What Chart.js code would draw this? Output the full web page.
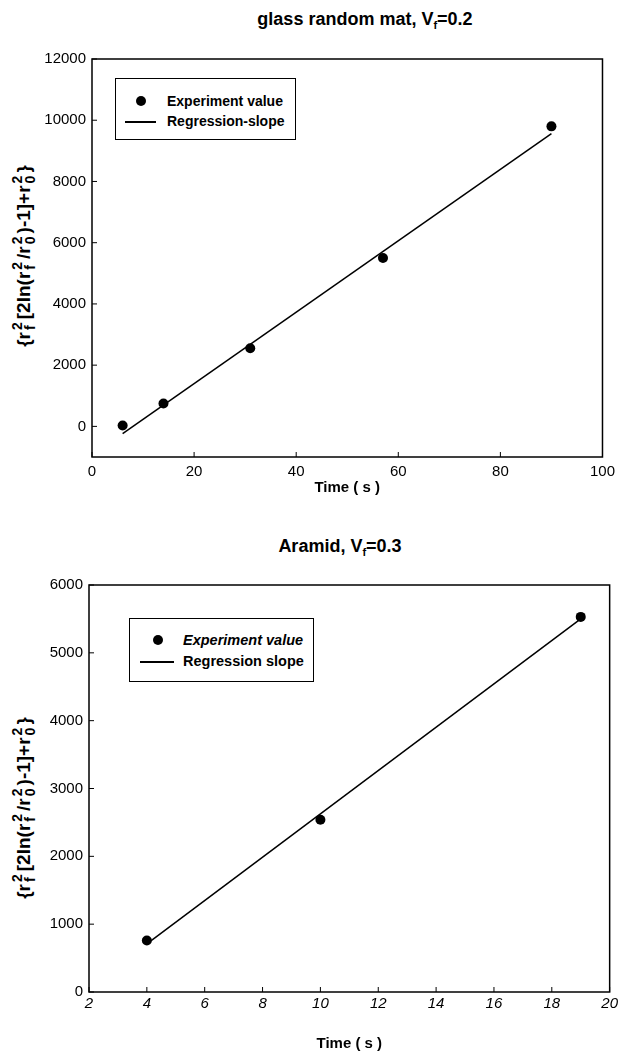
<!DOCTYPE html>
<html lang="en">
<head>
<meta charset="UTF-8">
<title>Regression slope: glass random mat and aramid</title>
<script src="https://cdn.jsdelivr.net/npm/chart.js"></script>
<style>
    body { margin: 0; background: #fff; color: #000; font-family: "Liberation Sans", Arial, sans-serif; }
    .page { position: relative; width: 621px; height: 1056px; overflow: hidden; }
    canvas { position: absolute; left: 0; }
    .title { position: absolute; font-weight: bold; font-size: 18px; white-space: nowrap; transform: translate(-50%, -50%); }
    .title sub { font-size: 11px; vertical-align: -4px; line-height: 0; }
    .ylabel { position: absolute; font-weight: bold; font-size: 19px; white-space: nowrap;
              transform: translate(-50%, -50%) rotate(-90deg); }
    .ss { display: inline-block; vertical-align: -5px; font-size: 14px; line-height: 13px; margin: 0 3px 0 2px; }
    .ss span { display: block; }
    .legend { position: absolute; border: 1px solid #000; background: #fff; font-weight: bold; box-sizing: border-box; }
    .legend .row { position: absolute; left: 0; height: 20px; line-height: 20px; white-space: nowrap; }
    .legend .dot { position: absolute; width: 10px; height: 10px; border-radius: 50%; background: #000; top: 5px; }
    .legend .ln { position: absolute; height: 1.5px; background: #000; top: 10px; }
</style>
</head>
<body>
<div class="page">
    <!-- top chart -->
    <div class="title" style="left:365px; top:19px;">glass random mat, V<sub>f</sub>=0.2</div>
    <div class="ylabel" style="left:24px; top:256px;">{r<span class="ss"><span>2</span><span>f</span></span>[2ln(r<span class="ss"><span>2</span><span>f</span></span>/r<span class="ss"><span>2</span><span>0</span></span>)-1]+r<span class="ss"><span>2</span><span>0</span></span>}</div>
    <canvas id="glassChart" width="621" height="510" style="top:0; width:621px; height:510px;"></canvas>
    <div class="legend" style="left:115px; top:78px; width:181px; height:62px; font-size:14px;">
        <div class="row" style="top:12px;"><span class="dot" style="left:20px;"></span><span style="margin-left:51px;">Experiment value</span></div>
        <div class="row" style="top:32px;"><span class="ln" style="left:9px; width:31px;"></span><span style="margin-left:51px;">Regression-slope</span></div>
    </div>

    <!-- bottom chart -->
    <div class="title" style="left:340px; top:546px;">Aramid, V<sub>f</sub>=0.3</div>
    <div class="ylabel" style="left:24px; top:808px;">{r<span class="ss"><span>2</span><span>f</span></span>[2ln(r<span class="ss"><span>2</span><span>f</span></span>/r<span class="ss"><span>2</span><span>0</span></span>)-1]+r<span class="ss"><span>2</span><span>0</span></span>}</div>
    <canvas id="aramidChart" width="621" height="546" style="top:510px; width:621px; height:546px;"></canvas>
    <div class="legend" style="left:129px; top:618px; width:185px; height:64px; font-size:14.5px;">
        <div class="row" style="top:11px;"><span class="dot" style="left:23px;"></span><span style="margin-left:53px; font-style:italic;">Experiment value</span></div>
        <div class="row" style="top:32px;"><span class="ln" style="left:10px; width:34px;"></span><span style="margin-left:53px;">Regression slope</span></div>
    </div>
</div>

<script>
    // glass random mat, Vf=0.2
    const glassTime = [6, 14, 31, 57, 90];
    const glassValue = [30, 750, 2550, 5500, 9800];
    const glassFitTime = [6, 90];
    const glassFitValue = [-240, 9560];
    const glassXTicks = [0, 20, 40, 60, 80, 100];
    const glassYTicks = [0, 2000, 4000, 6000, 8000, 10000, 12000];

    // Aramid, Vf=0.3
    const aramidTime = [4, 10, 19];
    const aramidValue = [760, 2540, 5530];
    const aramidFitTime = [4, 19];
    const aramidFitValue = [710, 5500];
    const aramidXTicks = [2, 4, 6, 8, 10, 12, 14, 16, 18, 20];
    const aramidYTicks = [0, 1000, 2000, 3000, 4000, 5000, 6000];

    const tickFont = { family: '"Liberation Sans", Arial, sans-serif', size: 15 };
    const titleFont = { family: '"Liberation Sans", Arial, sans-serif', size: 15, weight: 'bold' };

    function toPoints(xs, ys) {
        return xs.map((x, i) => ({ x: x, y: ys[i] }));
    }

    // frame around the plot and short inward tick marks
    const frameTicks = {
        id: 'frameTicks',
        beforeDatasetsDraw(chart) {
            const { ctx, chartArea: a, scales } = chart;
            ctx.save();
            ctx.strokeStyle = '#000';
            ctx.lineWidth = 1.5;
            ctx.strokeRect(a.left, a.top, a.right - a.left, a.bottom - a.top);
            ctx.lineWidth = 1;
            ctx.beginPath();
            scales.x.ticks.forEach(t => {
                const px = scales.x.getPixelForValue(t.value);
                ctx.moveTo(px, a.bottom);
                ctx.lineTo(px, a.bottom - 5);
            });
            scales.y.ticks.forEach(t => {
                const py = scales.y.getPixelForValue(t.value);
                ctx.moveTo(a.left, py);
                ctx.lineTo(a.left + 5, py);
            });
            ctx.stroke();
            ctx.restore();
        }
    };

    function makeChart(id, pts, fit, o) {
        return new Chart(document.getElementById(id), {
            type: 'scatter',
            data: {
                datasets: [
                    {
                        label: 'Experiment value',
                        data: pts,
                        pointRadius: 5,
                        pointBackgroundColor: '#000',
                        pointBorderColor: '#000',
                        pointBorderWidth: 0,
                        showLine: false
                    },
                    {
                        label: 'Regression slope',
                        data: fit,
                        showLine: true,
                        pointRadius: 0,
                        borderColor: '#000',
                        borderWidth: 1.5
                    }
                ]
            },
            options: {
                responsive: false,
                animation: false,
                layout: { padding: o.padding },
                plugins: { legend: { display: false }, tooltip: { enabled: false } },
                scales: {
                    x: {
                        type: 'linear',
                        min: o.xMin, max: o.xMax,
                        ticks: {
                            padding: o.xPad, color: '#000',
                            font: Object.assign({}, tickFont, { style: o.xItalic ? 'italic' : 'normal' }),
                            callback: v => String(v)
                        },
                        grid: { display: false, drawTicks: false },
                        border: { display: false },
                        title: { display: true, text: 'Time ( s )', color: '#000', font: titleFont, padding: 0 },
                        afterBuildTicks: s => { s.ticks = o.xTicks.map(v => ({ value: v })); },
                        afterFit: s => { s.height = o.xHeight; }
                    },
                    y: {
                        type: 'linear',
                        min: o.yMin, max: o.yMax,
                        ticks: { padding: 6, color: '#000', font: tickFont, callback: v => String(v) },
                        grid: { display: false, drawTicks: false },
                        border: { display: false },
                        afterBuildTicks: s => { s.ticks = o.yTicks.map(v => ({ value: v })); },
                        afterFit: s => { s.width = o.yWidth; }
                    }
                }
            },
            plugins: [frameTicks]
        });
    }

    makeChart('glassChart', toPoints(glassTime, glassValue), toPoints(glassFitTime, glassFitValue), {
        padding: { top: 59, right: 16, bottom: 13, left: 0 },
        xMin: 0, xMax: 100, xTicks: glassXTicks, xPad: 6, xHeight: 40, xItalic: false,
        yMin: -1000, yMax: 12000, yTicks: glassYTicks, yWidth: 92
    });

    makeChart('aramidChart', toPoints(aramidTime, aramidValue), toPoints(aramidFitTime, aramidFitValue), {
        padding: { top: 75, right: 8, bottom: 3, left: 0 },
        xMin: 2, xMax: 20, xTicks: aramidXTicks, xPad: 3, xHeight: 61, xItalic: true,
        yMin: 0, yMax: 6000, yTicks: aramidYTicks, yWidth: 89
    });
</script>
</body>
</html>
